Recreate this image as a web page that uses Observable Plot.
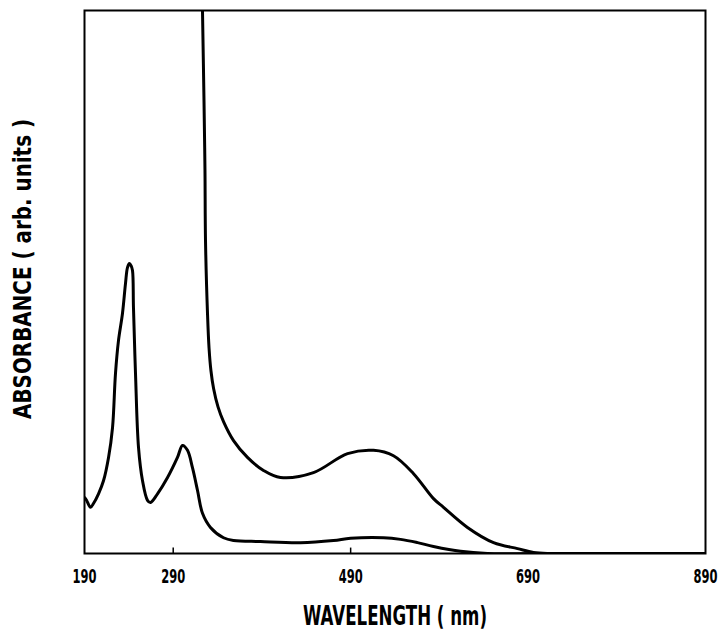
<!DOCTYPE html>
<html>
<head>
<meta charset="utf-8">
<script src="https://cdn.jsdelivr.net/npm/d3@7"></script>
<script src="https://cdn.jsdelivr.net/npm/@observablehq/plot@0.6"></script>
<style>
  html, body { margin: 0; padding: 0; background: #fff; }
  #chart svg { display: block; }
</style>
</head>
<body>
<div id="chart"></div>
<script>
// Lower spectrum (two UV peaks, weak visible band)
const waveA = [190, 192.3, 196.8, 200.1, 205.8, 211.4, 217.1, 221.6, 224.9, 228.3, 232.8, 236.2, 238.5, 240.7, 242.5, 244.1, 245.2, 247.5, 250.9, 255.4, 261.0, 264.4, 272.3, 283.6, 294.8, 300.5, 306.1, 311.7, 317.4, 323.0, 332.0, 346.7, 358, 388.4, 433.5, 470.7, 489.9, 527.1, 546.2, 565.4, 583.4, 613.9, 644.3, 700, 890];
const absA  = [10.3, 9.8, 8.5, 9.2, 11.0, 13.4, 17.7, 23.2, 33.1, 39.2, 44.2, 49.7, 52.7, 53.4, 53.0, 52.1, 45.3, 33.1, 19.5, 13.4, 9.8, 9.4, 11.0, 14.0, 17.7, 19.9, 19.0, 15.8, 11.6, 7.4, 4.8, 2.9, 2.4, 2.2, 2.0, 2.4, 2.8, 2.9, 2.6, 2.0, 1.3, 0.4, 0, 0, 0];

// Upper spectrum (strong UV edge, broad visible band)
const waveB = [322.6, 323.0, 324.7, 325.8, 326.4, 328.7, 330.4, 332.5, 335.5, 340.5, 346.7, 358.0, 373.7, 391.8, 410.9, 448.1, 486.5, 515.8, 538.3, 560.9, 583.4, 594.7, 621.7, 651.1, 678.1, 696.1, 715.3, 890];
const absB  = [105, 100, 83.4, 70.5, 57.6, 44.0, 37.8, 33.7, 30.4, 27.0, 24.3, 20.8, 17.7, 15.3, 14.0, 14.9, 18.4, 19.0, 18.0, 14.7, 10.1, 8.5, 4.8, 2.0, 0.9, 0.2, 0, 0];

const xTicks = [190, 290, 490, 690, 890];
const innerTicks = [290, 490];
const xTitle = "WAVELENGTH ( nm)";
const yTitle = "ABSORBANCE ( arb. units )";

const seriesA = waveA.map((w, i) => ({w, a: absA[i]}));
const seriesB = waveB.map((w, i) => ({w, a: absB[i]}));

const font = "'DejaVu Sans', sans-serif";

const chart = Plot.plot({
  width: 720,
  height: 638,
  marginLeft: 84,
  marginRight: 15,
  marginTop: 10,
  marginBottom: 85,
  style: {fontFamily: font, background: "#fff", color: "#000"},
  x: {domain: [190, 890]},
  y: {domain: [0, 100], axis: null},
  marks: [
    Plot.axisX({ticks: xTicks, tickSize: 0, tickPadding: 15, fontSize: 20, fontWeight: "bold", label: null, tickFormat: d => String(d)}),
    Plot.ruleX(innerTicks, {y1: 0, y2: 1, stroke: "#000", strokeWidth: 1.5}),
    Plot.line(seriesA, {x: "w", y: "a", stroke: "#000", strokeWidth: 3, curve: "catmull-rom", clip: true}),
    Plot.line(seriesB, {x: "w", y: "a", stroke: "#000", strokeWidth: 3, curve: "catmull-rom", clip: true}),
    Plot.frame({stroke: "#000", strokeWidth: 2}),
    Plot.text([xTitle], {frameAnchor: "bottom", dy: 71, fontSize: 26, fontWeight: "bold", text: d => d}),
    Plot.text([yTitle], {frameAnchor: "left", textAnchor: "middle", dx: -62, dy: -13, rotate: -90, fontSize: 25, fontWeight: "bold", text: d => d})
  ]
});

document.getElementById("chart").append(chart);

// condense the lettering like the original's narrow typeface
const tickSet = new Set(xTicks.map(String));
chart.querySelectorAll("text").forEach(t => {
  const s = t.textContent;
  let len = null;
  if (tickSet.has(s)) len = 24;
  else if (s === xTitle) len = 184;
  else if (s === yTitle) len = 300;
  if (len) {
    t.setAttribute("textLength", len);
    t.setAttribute("lengthAdjust", "spacingAndGlyphs");
  }
});
</script>
</body>
</html>
